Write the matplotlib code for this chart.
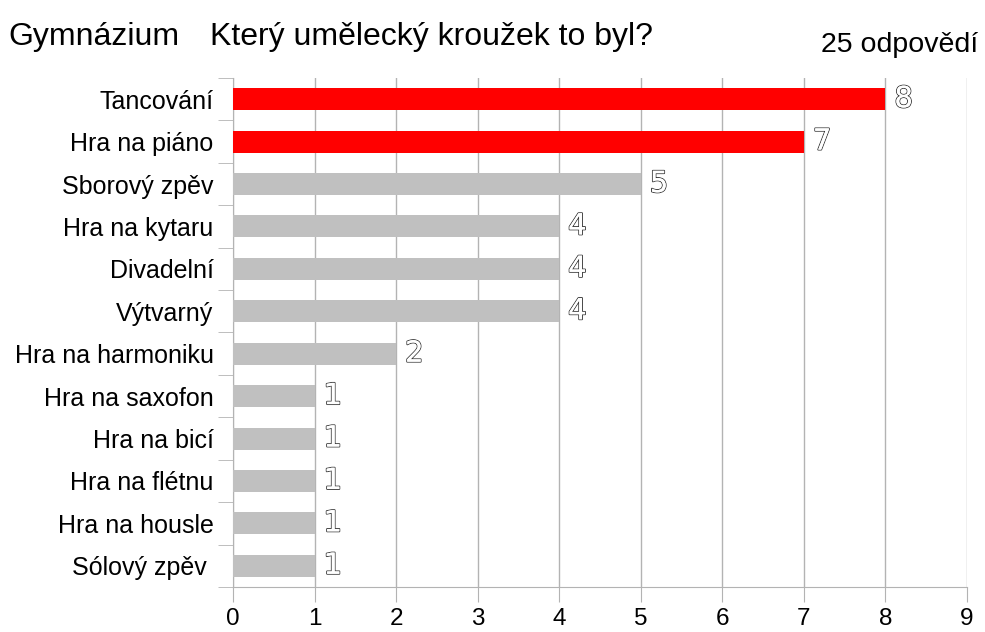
import matplotlib
matplotlib.use('Agg')
import matplotlib.pyplot as plt
import matplotlib.patheffects as pe
import numpy as np

plt.rcParams['font.family'] = ['Liberation Sans', 'DejaVu Sans']

categories = ['Tancování', 'Hra na piáno', 'Sborový zpěv', 'Hra na kytaru', 'Divadelní',
              'Výtvarný', 'Hra na harmoniku', 'Hra na saxofon', 'Hra na bicí',
              'Hra na flétnu', 'Hra na housle', 'Sólový zpěv ']
counts = [8, 7, 5, 4, 4, 4, 2, 1, 1, 1, 1, 1]
highlight = [True, True, False, False, False, False, False, False, False, False, False, False]
title_left = 'Gymnázium'
title_main = 'Který umělecký kroužek to byl?'
n_answers = '25 odpovědí'

fig = plt.figure(figsize=(9.85, 6.32), dpi=100)
ax = fig.add_axes([0.2365, 0.0712, 0.7452, 0.8054])

y = np.arange(len(categories))
colors = ['#ff0000' if h else '#c0c0c0' for h in highlight]
ax.barh(y, counts, height=0.52, color=colors, zorder=3)

ax.set_xlim(0, 9)
ax.set_ylim(len(categories) - 0.5, -0.5)
ax.set_xticks(range(10))
ax.tick_params(axis='x', labelsize=17.5, length=11, color='#b3b3b3', pad=4)
ax.set_yticks(y)
ax.set_yticklabels(categories)
ax.tick_params(axis='y', which='major', length=0, labelsize=18, pad=14)
ax.set_yticks(np.arange(len(categories) + 1) - 0.5, minor=True)
ax.tick_params(axis='y', which='minor', length=11, color='#b3b3b3')
ax.grid(axis='x', color='#b3b3b3', linewidth=1, zorder=0)
for s in ['top', 'right']:
    ax.spines[s].set_visible(False)
for s in ['left', 'bottom']:
    ax.spines[s].set_color('#b3b3b3')

for yi, v in zip(y, counts):
    ax.text(v + 0.11, yi, str(v), va='center', ha='left', fontsize=21,
            family='DejaVu Sans', color='white', zorder=4,
            path_effects=[pe.withStroke(linewidth=1.3, foreground='#333333'), pe.Normal()])

fig.text(8 / 985, 1 - 45 / 632, title_left, fontsize=23, va='baseline', ha='left')
fig.text(210 / 985, 1 - 45 / 632, title_main, fontsize=23, va='baseline', ha='left')
fig.text(978 / 985, 1 - 52 / 632, n_answers, fontsize=20.5, va='baseline', ha='right')

fig.savefig('out.png', dpi=100)
